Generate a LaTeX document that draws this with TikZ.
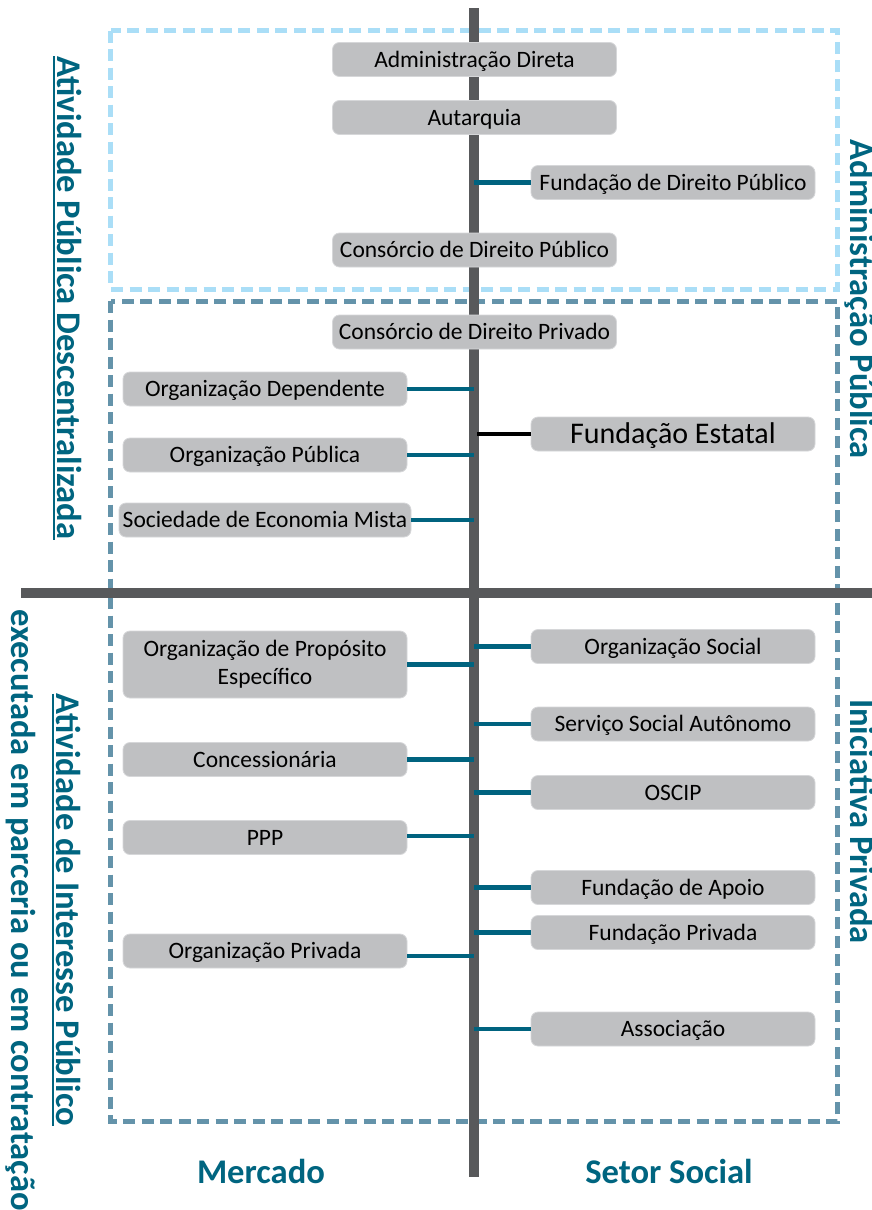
\documentclass[tikz,border=0pt]{standalone}
\usepackage{fontspec}
\setmainfont{Carlito}
\definecolor{boxgray}{RGB}{191,192,194}
\definecolor{boxedge}{RGB}{214,215,217}
\definecolor{axisgray}{RGB}{88,89,91}
\definecolor{linkteal}{RGB}{0,99,127}
\definecolor{labteal}{RGB}{0,101,128}
\definecolor{lightdash}{RGB}{170,222,247}
\definecolor{darkdash}{RGB}{100,147,170}
\tikzset{
  boxbase/.style={fill=boxgray, draw=boxedge, line width=0.8pt, rounded corners=7pt,
    minimum width=284pt, minimum height=34pt, inner sep=0pt, align=center,
    font=\fontsize{23.5}{28}\selectfont},
  box/.style={boxbase, text height=15pt, text depth=0pt},
  link/.style={draw=linkteal, line width=4.5pt},
  blacklink/.style={draw=black, line width=4.5pt},
  axisline/.style={draw=axisgray, line width=10pt},
  lightframe/.style={draw=lightdash, line width=5pt, dash pattern=on 12pt off 6.5pt},
  darkframe/.style={draw=darkdash, line width=5pt, dash pattern=on 12pt off 6.5pt},
  lab/.style={text=labteal, font=\fontsize{34.6}{41}\selectfont\bfseries, inner sep=0pt},
  underl/.style={draw=labteal, line width=1.8pt}
}
\begin{document}
\begin{tikzpicture}[x=1pt,y=-1pt]
\clip (0,0) rectangle (872,1210);
\fill[white] (0,0) rectangle (872,1210);
% frames
\draw[lightframe] (110.5,30.5) rectangle (837.5,289);
\draw[darkframe] (110.5,301) rectangle (837.5,1121);
% axes
\coordinate (vT) at (473.5,8);
\coordinate (vB) at (473.5,1177);
\coordinate (hL) at (21,593);
\coordinate (hR) at (872,593);
\draw[axisline] (vT) -- (vB);
\draw[axisline] (hL) -- (hR);
% nodes upper
\node[box] (admdir) at (474.5,59.5) {Administração Direta};
\node[box] (autarq) at (474.5,117.5) {Autarquia};
\node[box] (fdp) at (673,182.5) {Fundação de Direito Público};
\node[box] (cdpub) at (474.5,250) {Consórcio de Direito Público};
\node[box] (cdpriv) at (474.5,332) {Consórcio de Direito Privado};
\node[box] (odep) at (265,389) {Organização Dependente};
\node[box] (opub) at (265,455) {Organização Pública};
\node[box, minimum width=292pt] (sem) at (265,520) {Sociedade de Economia Mista};
\node[box, font=\fontsize{30}{36}\selectfont, text height=19.3pt] (fest) at (673,434) {Fundação Estatal};
% nodes lower
\node[boxbase, minimum height=67pt] (ope) at (265,664.5) {Organização de Propósito\\Específico};
\node[box] (conc) at (265,759.5) {Concessionária};
\node[box] (ppp) at (265,837.5) {PPP};
\node[box] (opriv) at (265,951) {Organização Privada};
\node[box] (osoc) at (673,646.5) {Organização Social};
\node[box] (ssa) at (673,724) {Serviço Social Autônomo};
\node[box] (oscip) at (673,792.5) {OSCIP};
\node[box] (fapoio) at (673,887.5) {Fundação de Apoio};
\node[box] (fpriv) at (673,932.5) {Fundação Privada};
\node[box] (assoc) at (673,1029) {Associação};
% connectors
\draw[link] (fdp.west) -- (fdp.west -| vT);
\draw[link] (odep.east) -- (odep.east -| vT);
\draw[link] (opub.east) -- (opub.east -| vT);
\draw[link] (sem.east) -- (sem.east -| vT);
\draw[blacklink] (fest.west) -- ([xshift=3pt]fest.west -| vT);
\draw[link] (ope.east) -- (ope.east -| vT);
\draw[link] (conc.east) -- (conc.east -| vT);
\draw[link] ([yshift=1.5pt]ppp.east) -- ([yshift=1.5pt]ppp.east -| vT);
\draw[link] ([yshift=-5pt]opriv.east) -- ([yshift=-5pt]opriv.east -| vT);
\draw[link] (osoc.west) -- (osoc.west -| vT);
\draw[link] (ssa.west) -- (ssa.west -| vT);
\draw[link] (oscip.west) -- (oscip.west -| vT);
\draw[link] (fapoio.west) -- (fapoio.west -| vT);
\draw[link] (fpriv.west) -- (fpriv.west -| vT);
\draw[link] (assoc.west) -- (assoc.west -| vT);
% side labels
\node[lab, rotate=-90, anchor=south, inner ysep=3pt, text depth=0pt] (lab1) at (54,298) {Atividade Pública Descentralizada};
\draw[underl] (lab1.south west) -- (lab1.south east);
\node[lab, rotate=-90, anchor=south, inner ysep=3.5pt, text depth=0pt] (lab2a) at (53,910) {Atividade de Interesse Público};
\draw[underl] (lab2a.south west) -- (lab2a.south east);
\node[lab, rotate=-90, anchor=base] (lab2b) at (12,910) {executada em parceria ou em contratação};
\node[lab, rotate=-90, anchor=base] (lab3) at (850,299) {Administração Pública};
\node[lab, rotate=-90, anchor=base] (lab4) at (850,821.5) {Iniciativa Privada};
\node[lab, anchor=base] (merc) at (261,1183) {Mercado};
\node[lab, anchor=base] (setor) at (669,1183) {Setor Social};
\end{tikzpicture}
\end{document}
